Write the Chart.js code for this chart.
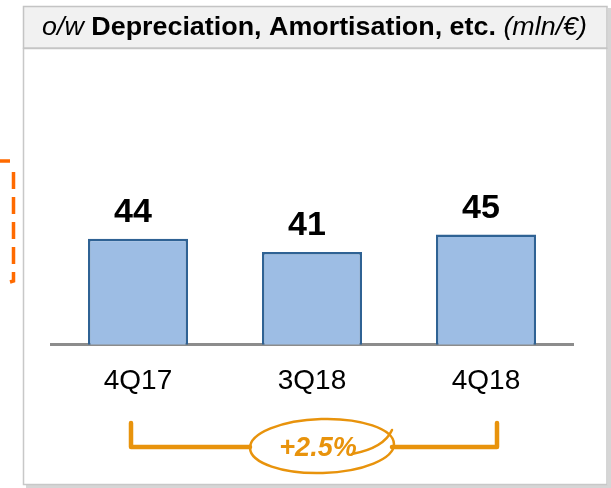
<!DOCTYPE html>
<html>
<head>
<meta charset="utf-8">
<script src="https://cdn.jsdelivr.net/npm/chart.js@4"></script>
<style>
  html, body { margin: 0; padding: 0; background: #ffffff; }
  #wrap { width: 611px; height: 488px; position: relative; }
</style>
</head>
<body>
<div id="wrap"><canvas id="chart" width="611" height="488"></canvas></div>
<script>
const LABELS = ['4Q17', '3Q18', '4Q18'];
const VALUES = [44, 41, 45];
const GROWTH_LABEL = '+2.5%';
const TITLE_PARTS = [
    { text: 'o/w ', style: 'italic' },
    { text: 'Depreciation, Amortisation, etc.', style: 'bold' },
    { text: ' (mln/\u20AC)', style: 'italic' }
];

const FONT = '"Liberation Sans", Arial, sans-serif';
const ORANGE = '#E8930C';

// panel frame + header
const panelPlugin = {
    id: 'panel',
    beforeDraw(chart) {
        const c = chart.ctx;
        c.save();
        // shadow on right / bottom
        c.fillStyle = '#d6d6d6';
        c.fillRect(608, 8, 3, 478);
        c.fillRect(26, 485, 585, 3);
        // body
        c.fillStyle = '#ffffff';
        c.fillRect(23, 48, 584, 437);
        c.strokeStyle = '#c8c8c8';
        c.lineWidth = 1.5;
        c.strokeRect(23.5, 48.5, 583.5, 436);
        // header
        c.fillStyle = '#f1f1f1';
        c.fillRect(23, 6, 584, 42);
        c.strokeStyle = '#c4c4c4';
        c.strokeRect(23.5, 6.5, 583.5, 41.5);

        // title text, fitted to the header span
        const size = 25;
        const fontOf = s => (s === 'bold' ? 'bold ' : 'italic ') + size + 'px ' + FONT;
        let total = 0;
        TITLE_PARTS.forEach(p => { c.font = fontOf(p.style); total += c.measureText(p.text).width; });
        const left = 42, right = 587;
        const sx = (right - left) / total;
        c.translate(left, 28);
        c.scale(sx, 1);
        c.fillStyle = '#000000';
        c.textBaseline = 'middle';
        c.textAlign = 'left';
        let x = 0;
        TITLE_PARTS.forEach(p => {
            c.font = fontOf(p.style);
            c.fillText(p.text, x, 0);
            x += c.measureText(p.text).width;
        });
        c.restore();

        // dashed orange bracket of the neighbouring panel
        c.save();
        c.strokeStyle = '#FF6A00';
        c.lineWidth = 3.5;
        c.beginPath();
        c.moveTo(0, 161);
        c.lineTo(10, 161);
        c.stroke();
        c.setLineDash([17, 8]);
        c.beginPath();
        c.moveTo(13.5, 172);
        c.lineTo(13.5, 281);
        c.lineTo(10, 282);
        c.stroke();
        c.restore();
    }
};

// value labels + growth bracket
const labelPlugin = {
    id: 'labels',
    afterDatasetsDraw(chart) {
        const c = chart.ctx;
        const bars = chart.getDatasetMeta(0).data;
        c.save();
        c.fillStyle = '#000000';
        c.font = 'bold 34px ' + FONT;
        c.textAlign = 'center';
        c.textBaseline = 'middle';
        bars.forEach((b, i) => {
            c.fillText(String(VALUES[i]), b.x - 5, b.y - 26);
        });

        // bracket from first to last bar
        const x1 = bars[0].x - 7;
        const x2 = bars[bars.length - 1].x + 11;
        const yTop = 423, yLine = 447;
        const cx = (x1 + x2) / 2 + 8, cy = 446;
        c.strokeStyle = ORANGE;
        c.lineWidth = 4.5;
        c.lineCap = 'round';
        c.lineJoin = 'round';
        c.beginPath();
        c.moveTo(x1, yTop);
        c.lineTo(x1, yLine);
        c.lineTo(cx - 72, yLine);
        c.moveTo(cx + 70, yLine);
        c.lineTo(x2, yLine);
        c.lineTo(x2, yTop);
        c.stroke();

        c.lineWidth = 2.5;
        c.beginPath();
        c.ellipse(cx, cy, 72, 27, -0.03, 0, Math.PI * 2);
        c.stroke();
        // small swoosh tail
        c.beginPath();
        c.moveTo(cx + 30, cy + 8);
        c.quadraticCurveTo(cx + 62, cy + 2, cx + 70, cy - 16);
        c.stroke();

        c.fillStyle = ORANGE;
        c.font = 'italic bold 27px ' + FONT;
        c.fillText(GROWTH_LABEL, cx - 4, cy + 3);
        c.restore();
    }
};

new Chart(document.getElementById('chart'), {
    type: 'bar',
    data: {
        labels: LABELS,
        datasets: [{
            data: VALUES,
            backgroundColor: '#9DBDE4',
            borderColor: '#2F6294',
            borderWidth: 2.5,
            borderSkipped: 'bottom',
            categoryPercentage: 1,
            barPercentage: 0.575
        }]
    },
    options: {
        responsive: false,
        animation: false,
        events: [],
        layout: { padding: { top: 98, left: 51, right: 38, bottom: 70 } },
        plugins: { legend: { display: false }, tooltip: { enabled: false } },
        scales: {
            x: {
                grid: { display: false, drawTicks: false },
                border: { display: true, color: '#8c8c8c', width: 3 },
                ticks: {
                    color: '#000000',
                    padding: 20,
                    font: { family: FONT, size: 28 }
                }
            },
            y: {
                display: false,
                min: 20,
                max: 76
            }
        }
    },
    plugins: [panelPlugin, labelPlugin]
});
</script>
</body>
</html>
